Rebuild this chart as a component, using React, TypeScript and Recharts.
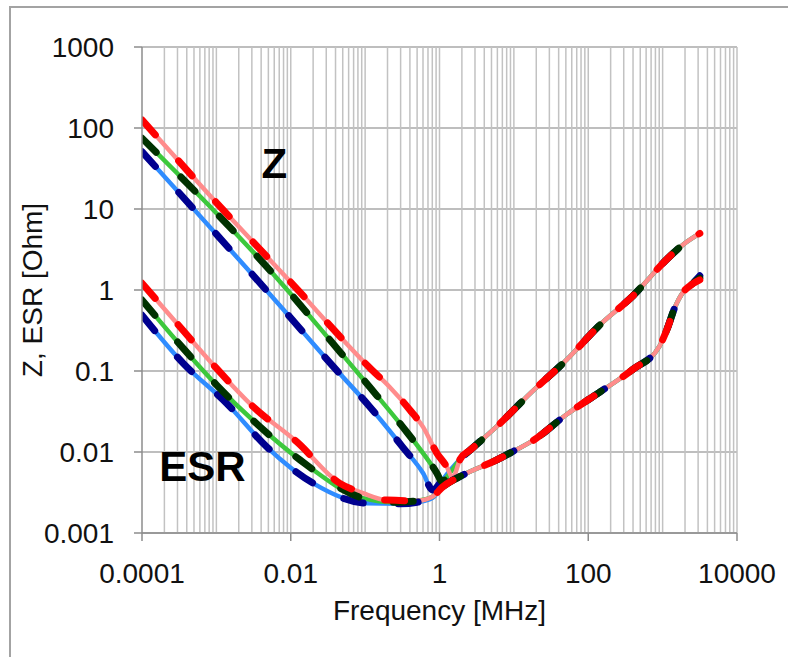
import { LineChart, Line, XAxis, YAxis, CartesianGrid, ReferenceDot, ReferenceLine } from "recharts";

type Pt = [number, number];

// frequency [MHz], value [Ohm]

// Z, capacitive branch down to the resonance dip
const zRedLow: Pt[] = [
  [0.0001, 126], [0.001, 12], [0.00975, 1.28], [0.116, 0.109], [0.215, 0.063],
  [0.4, 0.033], [0.6, 0.0204], [0.92, 0.0097], [1.26, 0.0065], [1.5, 0.0048],
];
const zGreenLow: Pt[] = [
  [0.0001, 75], [0.00975, 0.92], [0.0337, 0.241], [0.116, 0.063], [0.32, 0.0204],
  [0.6, 0.0097], [0.92, 0.0055], [1.08, 0.0043], [1.4, 0.0056],
];
const zBlueLow: Pt[] = [
  [0.0001, 51], [0.00975, 0.464], [0.0337, 0.126], [0.116, 0.036], [0.32, 0.0115],
  [0.6, 0.0055], [0.81, 0.0034], [1.05, 0.0043], [1.4, 0.006],
];
// Z, inductive branch (all three parts overlap)
const zHigh: Pt[] = [
  [1.9, 0.0082], [2.6, 0.0106], [6, 0.021], [17, 0.054], [51, 0.137], [143, 0.37],
  [400, 0.85], [1140, 2.4], [1860, 3.6], [3160, 5.0],
];

// ESR, falling part down to the flat bottom
const esrRedLow: Pt[] = [
  [0.0001, 1.21], [0.000308, 0.37], [0.000957, 0.113], [0.00313, 0.0362], [0.012, 0.0134],
  [0.0458, 0.0041], [0.094, 0.0031], [0.195, 0.00255], [0.5, 0.0025], [0.8, 0.0028],
];
const esrGreenLow: Pt[] = [
  [0.0001, 0.753], [0.000359, 0.19], [0.00101, 0.067], [0.00386, 0.0205], [0.0133, 0.008],
  [0.093, 0.0027], [0.25, 0.0024], [0.5, 0.0025], [0.8, 0.0028],
];
const esrBlueLow: Pt[] = [
  [0.0001, 0.49], [0.000359, 0.124], [0.00137, 0.04], [0.00474, 0.0116], [0.0201, 0.0041],
  [0.105, 0.00233], [0.3, 0.0023], [0.5, 0.0024], [0.8, 0.0027],
];
// ESR, rising part above resonance (shared)
const esrHigh: Pt[] = [
  [1.1, 0.0037], [2.07, 0.0052], [5.9, 0.008], [10, 0.0103], [18, 0.0138], [51, 0.029],
  [143, 0.055], [400, 0.105], [900, 0.2], [1150, 0.33], [1450, 0.6], [1900, 0.95], [2400, 1.15],
];
const esrEndRed: Pt = [3160, 1.33];
const esrEndGreen: Pt = [3160, 1.4];
const esrEndBlue: Pt = [3160, 1.5];

const xTicks = [0.0001, 0.01, 1, 100, 10000];
const yTicks = [0.001, 0.01, 0.1, 1, 10, 100, 1000];
const gridDecades = [0.0001, 0.001, 0.01, 0.1, 1, 10, 100, 1000];
const gridSteps = [1, 2, 3, 4, 5, 6, 7, 8, 9];

const zLabelAt: Pt = [0.006, 37];
const esrLabelAt: Pt = [0.00065, 0.0067];

const FONT = '"Liberation Sans", Arial, sans-serif';

const rows = (pts: Pt[]) => pts.map(([f, v]) => ({ f, v }));

const parts = [
  { id: "blue", light: "#2f8cff", dark: "#00008f", z: [...zBlueLow, ...zHigh], esr: [...esrBlueLow, ...esrHigh, esrEndBlue] },
  { id: "green", light: "#3cc83c", dark: "#003200", z: [...zGreenLow, ...zHigh], esr: [...esrGreenLow, ...esrHigh, esrEndGreen] },
  { id: "red", light: "#ff8c8c", dark: "#ff0000", z: [...zRedLow, ...zHigh], esr: [...esrRedLow, ...esrHigh, esrEndRed] },
];

// minor vertical grid: 1..9 of every decade, minus the left edge (axis line sits there)
const gridX = [...gridDecades.flatMap((d) => gridSteps.map((s) => s * d)), 10000].slice(1);

const YTitle = ({ viewBox }: any) => {
  const vb = viewBox ?? { x: 0, y: 47, width: 142, height: 486 };
  const x = 32;
  const y = vb.y + vb.height / 2;
  return (
    <text x={x} y={y} transform={`rotate(-90 ${x} ${y})`} textAnchor="middle" dominantBaseline="central"
      fontSize={28} fill="#111" fontFamily={FONT}>
      Z, ESR [Ohm]
    </text>
  );
};

const XTitle = ({ viewBox }: any) => {
  const vb = viewBox ?? { x: 142, y: 533, width: 595, height: 124 };
  return (
    <text x={vb.x + vb.width / 2} y={vb.y + 87} textAnchor="middle" fontSize={28} fill="#111" fontFamily={FONT}>
      Frequency [MHz]
    </text>
  );
};

const axisStroke = { stroke: "#8c8c8c", strokeWidth: 1.5 };

export default function App() {
  return (
    <div style={{ position: "absolute", left: 0, top: 0, width: 788, height: 657, overflow: "hidden", background: "#fff", fontFamily: FONT }}>
      <div style={{ position: "absolute", left: 9, top: 6, width: 820, height: 720, borderTop: "2px solid #a3a3a3", borderLeft: "2px solid #a3a3a3" }} />
      <div style={{ position: "absolute", left: 0, top: 0 }}>
        <LineChart width={788} height={657} margin={{ top: 47, right: 51, bottom: 0, left: 0 }}>
          {gridX.map((g) => (
            <ReferenceLine key={`g-${g}`} x={g} stroke="#c2c2c2" strokeWidth={1.5} zIndex={-60} />
          ))}
          <CartesianGrid vertical={false} stroke="#a8a8a8" strokeWidth={1.5} />
          <XAxis
            dataKey="f" type="number" scale="log" domain={[0.0001, 10000]} ticks={xTicks} allowDataOverflow
            height={124} interval={0} tickSize={8} tickMargin={22}
            tick={{ fontSize: 28, fill: "#111", fontFamily: FONT }}
            axisLine={axisStroke} tickLine={axisStroke}
            tickFormatter={(v: number) => String(v)}
            label={<XTitle />}
          />
          <YAxis
            type="number" scale="log" domain={[0.001, 1000]} ticks={yTicks} allowDataOverflow
            width={142} interval={0} tickSize={8} tickMargin={20}
            tick={{ fontSize: 28, fill: "#111", fontFamily: FONT }}
            axisLine={axisStroke} tickLine={axisStroke}
            tickFormatter={(v: number) => String(v)}
            label={<YTitle />}
          />
          {parts.map((p) => (
            <Line key={`zs-${p.id}`} data={rows(p.z)} dataKey="v" type="monotone" stroke={p.light} strokeWidth={4.5}
              dot={false} activeDot={false} isAnimationActive={false} />
          ))}
          {parts.map((p) => (
            <Line key={`es-${p.id}`} data={rows(p.esr)} dataKey="v" type="monotone" stroke={p.light} strokeWidth={4.5}
              dot={false} activeDot={false} isAnimationActive={false} />
          ))}
          {parts.map((p) => (
            <Line key={`zd-${p.id}`} data={rows(p.z)} dataKey="v" type="monotone" stroke={p.dark} strokeWidth={7}
              strokeDasharray="20 35" strokeLinecap="round" dot={false} activeDot={false} isAnimationActive={false} />
          ))}
          {parts.map((p) => (
            <Line key={`ed-${p.id}`} data={rows(p.esr)} dataKey="v" type="monotone" stroke={p.dark} strokeWidth={7}
              strokeDasharray="20 35" strokeLinecap="round" dot={false} activeDot={false} isAnimationActive={false} />
          ))}
          <ReferenceDot x={zLabelAt[0]} y={zLabelAt[1]} r={0} fill="none" stroke="none"
            label={{ value: "Z", position: "center", fontSize: 42, fontWeight: 700, fill: "#000", fontFamily: FONT }} />
          <ReferenceDot x={esrLabelAt[0]} y={esrLabelAt[1]} r={0} fill="none" stroke="none"
            label={{ value: "ESR", position: "center", fontSize: 42, fontWeight: 700, fill: "#000", fontFamily: FONT }} />
        </LineChart>
      </div>
    </div>
  );
}
